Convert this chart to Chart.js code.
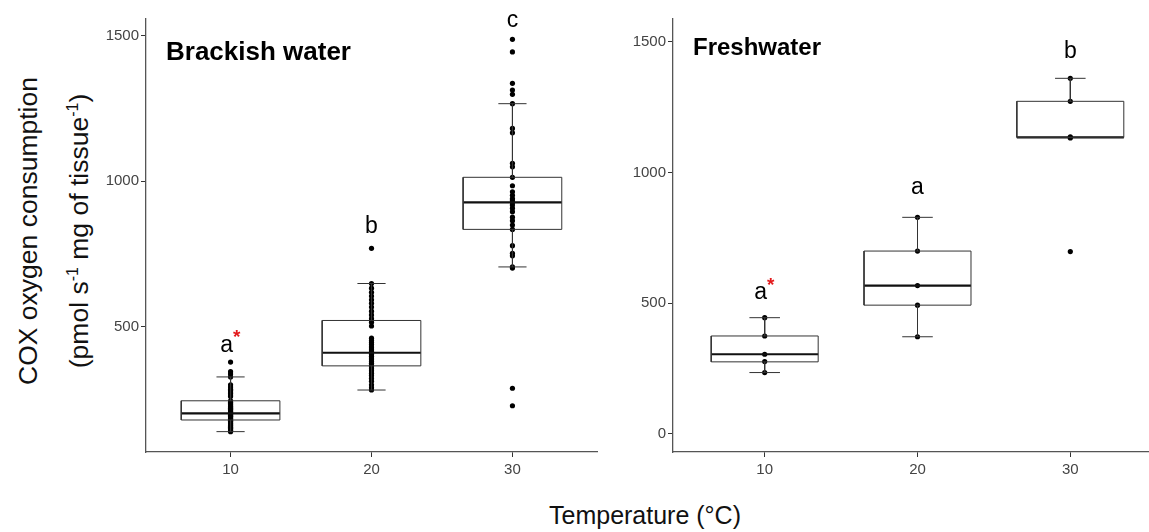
<!DOCTYPE html>
<html>
<head>
<meta charset="utf-8">
<script src="https://cdn.jsdelivr.net/npm/chart.js@4/dist/chart.umd.min.js"></script>
<style>
  html, body { margin: 0; padding: 0; background: #fff; overflow: hidden; }
  body { width: 1149px; height: 532px; position: relative; font-family: "Liberation Sans", Arial, sans-serif; }
  canvas { position: absolute; top: 0; }
  #cLeft { left: 96px; }
  #cRight { left: 623px; }
  .ytitle { position: absolute; white-space: nowrap; font-size: 26.5px; color: #111; transform: translate(-50%, -50%) rotate(-90deg); }
  .ytitle sup { font-size: 16px; }
  #xtitle { position: absolute; left: 645px; top: 515px; transform: translate(-50%, -50%); font-size: 25px; color: #111; white-space: nowrap; }
</style>
</head>
<body>
<div class="ytitle" style="left:28px; top:231px;">COX oxygen consumption</div>
<div class="ytitle" style="left:79px; top:231px;">(pmol s<sup>-1</sup> mg of tissue<sup>-1</sup>)</div>
<div id="xtitle">Temperature (°C)</div>
<canvas id="cLeft" width="510" height="500"></canvas>
<canvas id="cRight" width="560" height="500"></canvas>
<script>
// categories (temperature, °C)
const categories = ['10', '20', '30'];

// Brackish water: box stats [lower whisker, Q1, median, Q3, upper whisker]
const brackLow = [139, 282, 705];
const brackQ1 = [179, 365, 834];
const brackMed = [202, 410, 927];
const brackQ3 = [245, 521, 1013];
const brackHigh = [327, 648, 1266];
// individual measurements
const brack10 = [378, 345, 337, 327, 300, 292, 285, 280, 275, 270, 265, 260, 245, 240, 236, 232, 228, 225, 222,
  219, 216, 213, 210, 207, 204, 202, 200, 198, 195, 192, 190, 187, 184, 181, 178, 175, 172, 169, 166, 163, 160,
  157, 154, 151, 148, 145, 142, 139];
const brack20 = [769, 648, 632, 618, 605, 592, 580, 567, 553, 540, 527, 515, 502, 460, 452, 445, 438, 430, 423,
  416, 410, 404, 398, 392, 386, 380, 374, 368, 362, 355, 348, 340, 332, 322, 312, 300, 290, 282];
const brack30 = [1487, 1444, 1336, 1313, 1298, 1266, 1181, 1166, 1061, 1049, 1013, 984, 963, 951, 940, 935, 927,
  918, 907, 895, 876, 864, 849, 834, 778, 752, 743, 705, 701, 288, 228];
const brackLetters = ['a', 'b', 'c'];
const brackStars = [true, false, false];
const brackLetterY = [436, 845, 1552];
const brackYTicks = [500, 1000, 1500];

// Freshwater
const freshLow = [235, 372, 1135];
const freshQ1 = [276, 493, 1135];
const freshMed = [305, 568, 1135];
const freshQ3 = [375, 700, 1273];
const freshHigh = [445, 829, 1361];
const fresh10 = [445, 375, 305, 277, 235];
const fresh20 = [829, 700, 568, 493, 372];
const fresh30 = [1361, 1273, 1137, 1133, 698];
const freshLetters = ['a', 'a', 'b'];
const freshStars = [true, false, false];
const freshLetterY = [540, 941, 1463];
const freshYTicks = [0, 500, 1000, 1500];

(function(){
  'use strict';

  const FONT = '"Liberation Sans", Arial, sans-serif';
  const BOX_HALF = 0.35;
  const CAP_HALF = 0.1;

  // segments separated by null points so the line breaks between them
  function segs(list) {
    const out = [];
    list.forEach(function(s, k){
      if (k > 0) out.push({ x: s[0][0], y: null });
      s.forEach(function(p){ out.push({ x: p[0], y: p[1] }); });
    });
    return out;
  }

  function buildDatasets(low, q1, med, q3, high, groups) {
    const whisk = [], box = [], mid = [], pts = [];
    categories.forEach(function(c, i){
      const x = i + 1;
      if (high[i] > q3[i]) {
        whisk.push([[x - CAP_HALF, high[i]], [x + CAP_HALF, high[i]]]);
        whisk.push([[x, high[i]], [x, q3[i]]]);
      }
      if (low[i] < q1[i]) {
        whisk.push([[x, q1[i]], [x, low[i]]]);
        whisk.push([[x - CAP_HALF, low[i]], [x + CAP_HALF, low[i]]]);
      }
      box.push([[x - BOX_HALF, q1[i]], [x + BOX_HALF, q1[i]], [x + BOX_HALF, q3[i]],
                [x - BOX_HALF, q3[i]], [x - BOX_HALF, q1[i]]]);
      mid.push([[x - BOX_HALF, med[i]], [x + BOX_HALF, med[i]]]);
      groups[i].forEach(function(v){ pts.push({ x: x, y: v }); });
    });
    const lineBase = { pointRadius: 0, spanGaps: false, fill: false, tension: 0 };
    return [
      Object.assign({ data: segs(whisk), borderColor: '#333', borderWidth: 1 }, lineBase),
      Object.assign({ data: segs(box), borderColor: '#333', borderWidth: 1 }, lineBase),
      Object.assign({ data: segs(mid), borderColor: '#111', borderWidth: 2.2 }, lineBase),
      { data: pts, showLine: false, pointRadius: 2.6, pointBackgroundColor: '#000', pointBorderWidth: 0 }
    ];
  }

  // group letters and panel title, placed with the chart's own scales
  const annotate = {
    id: 'annotate',
    afterDatasetsDraw: function(chart, args, opts) {
      const ctx = chart.ctx, xs = chart.scales.x, ys = chart.scales.y;
      ctx.save();
      ctx.fillStyle = '#000';
      ctx.font = 'bold ' + opts.titleSize + 'px ' + FONT;
      ctx.textAlign = 'left';
      ctx.textBaseline = 'middle';
      ctx.fillText(opts.title, chart.chartArea.left + opts.titleDx, chart.chartArea.top + opts.titleDy);
      opts.letters.forEach(function(l, i){
        const px = xs.getPixelForValue(i + 1), py = ys.getPixelForValue(opts.letterY[i]);
        ctx.font = '23px ' + FONT;
        ctx.fillStyle = '#000';
        ctx.textAlign = 'center';
        const w = ctx.measureText(l).width;
        const shift = opts.stars[i] ? -4 : 0;
        ctx.fillText(l, px + shift, py);
        if (opts.stars[i]) {
          ctx.fillStyle = '#e31a1c';
          ctx.font = 'bold 19px ' + FONT;
          ctx.textAlign = 'left';
          ctx.fillText('*', px + shift + w / 2, py - 7);
        }
      });
      ctx.restore();
    }
  };

  function makeChart(id, cfg) {
    const el = document.getElementById(id);
    if (!el) return;
    return new Chart(el.getContext('2d'), {
      type: 'line',
      data: { datasets: buildDatasets(cfg.low, cfg.q1, cfg.med, cfg.q3, cfg.high, cfg.groups) },
      plugins: [annotate],
      options: {
        responsive: false,
        animation: false,
        layout: { padding: { top: 19, right: cfg.padRight, bottom: 8, left: 0 } },
        plugins: {
          legend: { display: false },
          tooltip: { enabled: false },
          annotate: { title: cfg.title, titleSize: cfg.titleSize, titleDx: cfg.titleDx, titleDy: cfg.titleDy,
                      letters: cfg.letters, stars: cfg.stars, letterY: cfg.letterY }
        },
        scales: {
          x: {
            type: 'linear', min: 0.4, max: 3.6,
            afterBuildTicks: function(s){ s.ticks = categories.map(function(c, i){ return { value: i + 1 }; }); },
            afterFit: function(s){ s.height = 40; },
            ticks: { color: '#444', font: { family: FONT, size: 15 }, padding: 4,
                     callback: function(v){ return categories[v - 1]; } },
            grid: { drawOnChartArea: false, drawTicks: true, tickLength: 5, color: '#333' },
            border: { display: true, color: '#555', width: 1.3 }
          },
          y: {
            type: 'linear', min: cfg.yMin, max: cfg.yMax,
            afterBuildTicks: function(s){ s.ticks = cfg.yTicks.map(function(v){ return { value: v }; }); },
            afterFit: function(s){ s.width = 50; },
            ticks: { color: '#444', font: { family: FONT, size: 15 }, padding: 2,
                     callback: function(v){ return String(v); } },
            grid: { drawOnChartArea: false, drawTicks: true, tickLength: 5, color: '#333' },
            border: { display: true, color: '#555', width: 1.3 }
          }
        }
      }
    });
  }

  function init() {
    if (typeof Chart === 'undefined') { console.warn('Chart.js no está cargado'); return; }
    makeChart('cLeft', {
      low: brackLow, q1: brackQ1, med: brackMed, q3: brackQ3, high: brackHigh,
      groups: [brack10, brack20, brack30],
      letters: brackLetters, stars: brackStars, letterY: brackLetterY,
      yTicks: brackYTicks, yMin: 69, yMax: 1557, padRight: 9,
      title: 'Brackish water', titleSize: 26, titleDx: 20, titleDy: 34
    });
    makeChart('cRight', {
      low: freshLow, q1: freshQ1, med: freshMed, q3: freshQ3, high: freshHigh,
      groups: [fresh10, fresh20, fresh30],
      letters: freshLetters, stars: freshStars, letterY: freshLetterY,
      yTicks: freshYTicks, yMin: -69, yMax: 1588, padRight: 21,
      title: 'Freshwater', titleSize: 24, titleDx: 20, titleDy: 29
    });
  }

  if (document.readyState === 'loading') {
    document.addEventListener('DOMContentLoaded', init);
  } else {
    init();
  }
})();
</script>
</body>
</html>
